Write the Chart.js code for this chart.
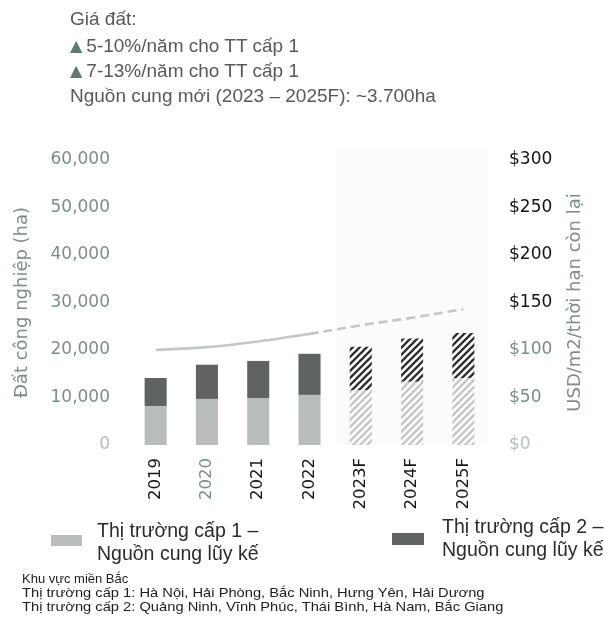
<!DOCTYPE html>
<html>
<head>
<meta charset="utf-8">
<script src="https://cdn.jsdelivr.net/npm/chart.js@4/dist/chart.umd.min.js"></script>
<style>
  html, body { margin:0; padding:0; background:#fff; }
  #wrap { position:relative; width:604px; height:622px; overflow:hidden; }
  #c { position:absolute; left:0; top:0; }
  .t { position:absolute; white-space:nowrap; font-family:'Liberation Sans', Arial, sans-serif; }
  .top { font-size:19px; line-height:22px; color:#555a58; left:70px; }
  .tri { font-family:'DejaVu Sans', sans-serif; font-size:16px; color:#5f7a70; margin-right:4px; position:relative; top:-1px; }
  .leg { font-size:19.5px; line-height:23px; color:#2b2b2b; }
  .sw { position:absolute; }
  .fn { font-size:13px; line-height:13px; color:#1e1e1e; left:22px; transform-origin:0 0; }
</style>
</head>
<body>
<div id="wrap">
  <canvas id="c" width="604" height="622"></canvas>
  <div class="t top" style="top:8px">Giá đất:</div>
  <div class="t top" style="top:35px"><span class="tri">▲</span>5-10%/năm cho TT cấp 1</div>
  <div class="t top" style="top:60px"><span class="tri">▲</span>7-13%/năm cho TT cấp 1</div>
  <div class="t top" style="top:85px">Nguồn cung mới (2023 – 2025F): ~3.700ha</div>

  <div class="sw" style="left:51px;top:535px;width:31px;height:11px;background:#b9bcbc"></div>
  <div class="t leg" style="left:97px;top:519px">Thị trường cấp 1 –<br>Nguồn cung lũy kế</div>
  <div class="sw" style="left:392px;top:533px;width:32px;height:12px;background:#5f6463"></div>
  <div class="t leg" style="left:442px;top:515px">Thị trường cấp 2 –<br>Nguồn cung lũy kế</div>

  <div class="t fn" style="top:572px">Khu vực miền Bắc</div>
  <div class="t fn" style="top:586px;transform:scaleX(1.13)">Thị trường cấp 1: Hà Nội, Hải Phòng, Bắc Ninh, Hưng Yên, Hải Dương</div>
  <div class="t fn" style="top:600px;transform:scaleX(1.13)">Thị trường cấp 2: Quảng Ninh, Vĩnh Phúc, Thái Bình, Hà Nam, Bắc Giang</div>
</div>
<script>
// ---- data ----
const categories = ['2019', '2020', '2021', '2022', '2023F', '2024F', '2025F'];
const tier1Supply = [8200, 9700, 9900, 10550, 11600, 13300, 14100];   // ha, Thị trường cấp 1
const tier2Supply = [5900, 7200, 7800, 8650, 9100, 9100, 9500];       // ha, Thị trường cấp 2
const landPrice = [100, 103, 109, 117, 126, 134, 143];                // USD/m2
const forecastStart = 4; // index of first forecast category
const leftAxisTitle = 'Đất công nghiệp (ha)';
const rightAxisTitle = 'USD/m2/thời hạn còn lại';

// ---- styles ----
const GREEN_GRAY = '#7b8e87';
const FAINT = '#b3bfba';
const DARK = '#151515';

function hatch(color, bg) {
  const s = 7;
  const cv = document.createElement('canvas');
  cv.width = s; cv.height = s;
  const g = cv.getContext('2d');
  if (bg) { g.fillStyle = bg; g.fillRect(0, 0, s, s); }
  g.strokeStyle = color;
  g.lineWidth = 2.3;
  g.beginPath();
  g.moveTo(0, s); g.lineTo(s, 0);
  g.moveTo(-1, 1); g.lineTo(1, -1);
  g.moveTo(s - 1, s + 1); g.lineTo(s + 1, s - 1);
  g.stroke();
  return g.createPattern(cv, 'repeat');
}
const hatchLight = hatch('#c4c7c7', '#ffffff');
const hatchDark = hatch('#2e2f2f', '#ffffff');

const tier1Colors = categories.map((c, i) => i >= forecastStart ? hatchLight : '#b9bcbc');
const tier2Colors = categories.map((c, i) => i >= forecastStart ? hatchDark : '#5f6463');

const forecastPanel = {
  id: 'forecastPanel',
  beforeDatasetsDraw(chart) {
    const { ctx, chartArea, scales: { x } } = chart;
    const x0 = (x.getPixelForValue(forecastStart - 1) + x.getPixelForValue(forecastStart)) / 2;
    ctx.save();
    ctx.fillStyle = '#fafbfb';
    ctx.fillRect(x0, chartArea.top - 12, chartArea.right - x0, chartArea.bottom - chartArea.top + 12);
    ctx.restore();
  },
  afterDraw(chart) {
    // right axis title, reading bottom-to-top like the left one
    const { ctx, chartArea, scales: { y1 } } = chart;
    ctx.save();
    ctx.translate(y1.right - 29, (chartArea.top + chartArea.bottom) / 2);
    ctx.rotate(-Math.PI / 2);
    ctx.font = '18px "DejaVu Sans"';
    ctx.fillStyle = GREEN_GRAY;
    ctx.textAlign = 'center';
    ctx.textBaseline = 'middle';
    ctx.fillText(rightAxisTitle, 0, 0);
    ctx.restore();
  }
};

const tickFont = { family: 'DejaVu Sans', size: 17 };

new Chart(document.getElementById('c'), {
  data: {
    labels: categories,
    datasets: [
      {
        type: 'line', label: 'Giá đất', data: landPrice, yAxisID: 'y1',
        borderColor: '#c3c7c7', borderWidth: 2.6, pointRadius: 0, tension: 0.35,
        segment: { borderDash: ctx => ctx.p0DataIndex >= forecastStart - 1 ? [9, 5] : undefined },
        order: 0
      },
      {
        type: 'bar', label: 'Thị trường cấp 1 – Nguồn cung lũy kế', data: tier1Supply,
        backgroundColor: tier1Colors, yAxisID: 'y', stack: 's',
        barPercentage: 0.43, categoryPercentage: 1, order: 1
      },
      {
        type: 'bar', label: 'Thị trường cấp 2 – Nguồn cung lũy kế', data: tier2Supply,
        backgroundColor: tier2Colors, yAxisID: 'y', stack: 's',
        barPercentage: 0.43, categoryPercentage: 1, order: 1
      }
    ]
  },
  options: {
    responsive: false,
    animation: false,
    layout: { padding: { top: 160, bottom: 107, left: 0, right: 0 } },
    plugins: { legend: { display: false }, tooltip: { enabled: false } },
    scales: {
      x: {
        stacked: true,
        grid: { display: false, drawTicks: false },
        border: { display: false },
        ticks: {
          minRotation: 90, maxRotation: 90, padding: 13,
          font: { family: 'DejaVu Sans', size: 16.5 },
          color: ctx => ctx.index === 1 ? GREEN_GRAY : DARK
        },
        afterFit: s => { s.height = 70; }
      },
      y: {
        stacked: true, position: 'left', min: 0, max: 60000,
        grid: { display: false, drawTicks: false },
        border: { display: false },
        ticks: {
          stepSize: 10000, padding: 20, font: tickFont,
          callback: v => v === 0 ? '0' : v.toLocaleString('en-US'),
          color: ctx => ctx.tick.value === 0 ? FAINT : GREEN_GRAY
        },
        title: {
          display: true, text: leftAxisTitle, color: GREEN_GRAY,
          font: { family: 'DejaVu Sans', size: 18 }, padding: { top: 12, bottom: 0 }
        },
        afterFit: s => { s.width = 130; }
      },
      y1: {
        position: 'right', min: 0, max: 300,
        grid: { display: false, drawTicks: false },
        border: { display: false },
        ticks: {
          stepSize: 50, padding: 20, font: tickFont,
          callback: v => '$' + v,
          color: ctx => ctx.tick.value >= 150 ? DARK : (ctx.tick.value === 0 ? FAINT : GREEN_GRAY)
        },
        title: { display: false },
        afterFit: s => { s.width = 115; }
      }
    }
  },
  plugins: [forecastPanel]
});
</script>
</body>
</html>
